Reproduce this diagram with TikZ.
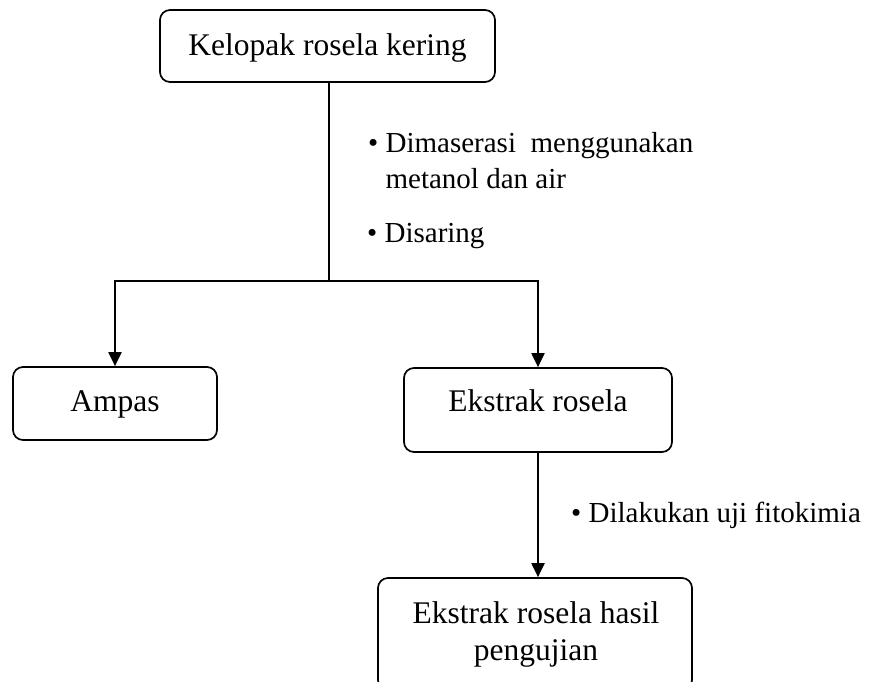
\documentclass[tikz,border=0pt]{standalone}
\usepackage{fontspec}
\setmainfont{Liberation Serif}
\usetikzlibrary{arrows.meta}
\begin{document}
\begin{tikzpicture}[x=1pt,y=-1pt,
  box/.style={draw,line width=1.7pt,rounded corners=10pt,align=center,inner sep=0pt,
    font=\fontsize{31.5}{37}\selectfont,text height=22pt},
  txt/.style={anchor=base,inner sep=0pt,align=center,font=\fontsize{31.5}{37}\selectfont},
  conn/.style={line width=2pt},
  arr/.style={conn,-{Triangle[width=13pt,length=14pt]}},
  lbl/.style={anchor=base west,inner sep=0pt,align=left,font=\fontsize{29}{36}\selectfont}]
\useasboundingbox (0,0) rectangle (872,681);
\clip (0,0) rectangle (872,681);
\node[box,minimum width=335pt,minimum height=72pt,text depth=4pt] (top) at (327.5,46) {Kelopak rosela kering};
\node[box,minimum width=204pt,minimum height=73pt,text depth=6pt] (ampas) at (115,403.5) {Ampas};
\node[box,minimum width=268pt,minimum height=84pt,text depth=18.6pt] (ekstrak) at (538,410) {Ekstrak rosela};
\node[box,minimum width=314pt,minimum height=112pt] (hasil) at (535,634) {};
\node[txt] (hasiltxt) at (536,660) {Ekstrak rosela hasil\\pengujian};
\coordinate (split) at (329,281);
\draw[conn] (split |- top.south) -- (split);
\draw[arr] (split) -| (ampas.north);
\draw[arr] (split) -| (ekstrak.north);
\draw[arr] (ekstrak.south) -- (ekstrak.south |- hasil.north);
\node[lbl] (l1) at (368,188) {• Dimaserasi\ \ menggunakan\\\hphantom{• }metanol dan air};
\node[lbl] (l2) at (367,242) {• Disaring};
\node[lbl] (l3) at (571,522) {• Dilakukan uji fitokimia};
\end{tikzpicture}
\end{document}
